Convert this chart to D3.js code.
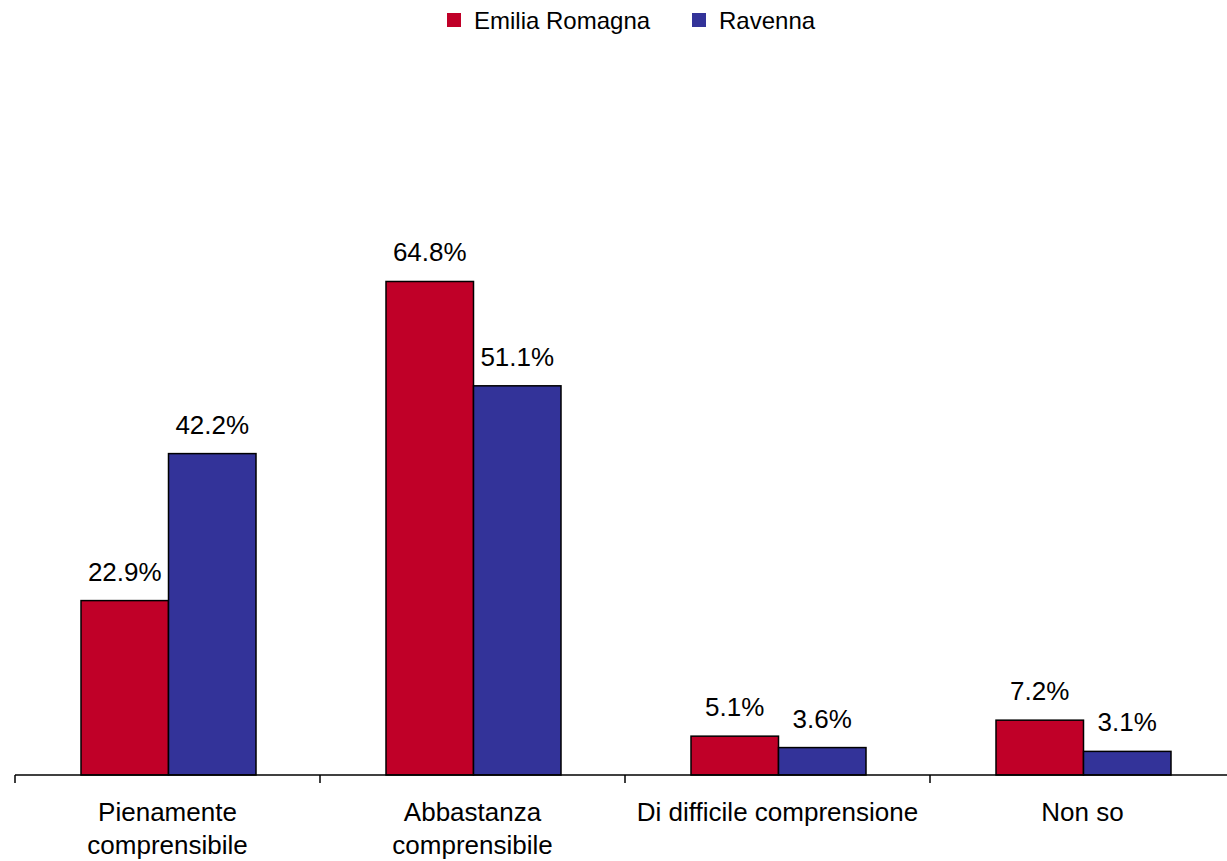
<!DOCTYPE html>
<html>
<head>
<meta charset="utf-8">
<script src="https://cdn.jsdelivr.net/npm/d3@7"></script>
<style>
  html, body { margin: 0; padding: 0; background: #fff; }
  svg { display: block; font-family: "Liberation Sans", Arial, sans-serif; }
</style>
</head>
<body>
<svg id="chart" width="1227" height="861"></svg>
<script>
const categories = [["Pienamente", "comprensibile"], ["Abbastanza", "comprensibile"], ["Di difficile comprensione"], ["Non so"]];
const categoryKeys = ["Pienamente comprensibile", "Abbastanza comprensibile", "Di difficile comprensione", "Non so"];
const seriesNames = ["Emilia Romagna", "Ravenna"];
const emiliaRomagna = [22.9, 64.8, 5.1, 7.2];
const ravenna = [42.2, 51.1, 3.6, 3.1];
const seriesColors = ["#C00028", "#333399"];

const svg = d3.select("#chart");
const baseY = 775;

const x0 = d3.scaleBand().domain(categoryKeys).range([15, 1235]).paddingInner(0).paddingOuter(0);
const x1 = d3.scaleBand().domain(seriesNames).range([66, 241]).padding(0);
const y = d3.scaleLinear().domain([0, 70]).range([baseY, baseY - 70 * 7.616]);

const data = categoryKeys.map((c, i) => ({
  cat: c,
  values: [
    { s: seriesNames[0], v: emiliaRomagna[i] },
    { s: seriesNames[1], v: ravenna[i] }
  ]
}));

const groups = svg.append("g").selectAll("g").data(data).join("g")
  .attr("transform", d => `translate(${x0(d.cat)},0)`);

groups.selectAll("rect").data(d => d.values).join("rect")
  .attr("x", d => x1(d.s))
  .attr("y", d => y(d.v))
  .attr("width", x1.bandwidth())
  .attr("height", d => baseY - y(d.v))
  .attr("fill", (d, i) => seriesColors[i])
  .attr("stroke", "#000")
  .attr("stroke-width", 1.5);

groups.selectAll("text.val").data(d => d.values).join("text")
  .attr("class", "val")
  .attr("x", d => x1(d.s) + x1.bandwidth() / 2)
  .attr("y", d => y(d.v) - 20)
  .attr("text-anchor", "middle")
  .attr("font-size", 26)
  .attr("fill", "#000")
  .text(d => d.v.toFixed(1) + "%");

// axis
const axis = d3.axisBottom(x0).tickSize(0).tickFormat("");
const ax = svg.append("g").attr("transform", `translate(0,${baseY})`).call(axis);
ax.select(".domain").remove();
ax.append("line").attr("x1", 15).attr("x2", 1227).attr("y1", 0).attr("y2", 0)
  .attr("stroke", "#000").attr("stroke-width", 1.5);
ax.selectAll(".tickmark").data(categoryKeys).join("line")
  .attr("class", "tickmark")
  .attr("x1", d => x0(d)).attr("x2", d => x0(d))
  .attr("y1", 0).attr("y2", 8)
  .attr("stroke", "#000").attr("stroke-width", 1.5);

// category labels
svg.append("g").selectAll("text").data(categories).join("text")
  .attr("x", (d, i) => x0(categoryKeys[i]) + x0.bandwidth() / 2)
  .attr("y", 821)
  .attr("text-anchor", "middle")
  .attr("font-size", 26)
  .attr("fill", "#000")
  .selectAll("tspan").data(d => d).join("tspan")
  .attr("x", function() { return this.parentNode.getAttribute("x"); })
  .attr("dy", (d, i) => i === 0 ? 0 : 33)
  .text(d => d);

// legend
const legendItems = [{ name: seriesNames[0], x: 447 }, { name: seriesNames[1], x: 692 }];
const lg = svg.append("g").selectAll("g").data(legendItems).join("g")
  .attr("transform", d => `translate(${d.x},13)`);
lg.append("rect").attr("width", 14).attr("height", 14)
  .attr("fill", (d, i) => seriesColors[i]);
lg.append("text").attr("x", 27).attr("y", 15.5)
  .attr("font-size", 24).attr("fill", "#000")
  .text(d => d.name);
</script>
</body>
</html>
